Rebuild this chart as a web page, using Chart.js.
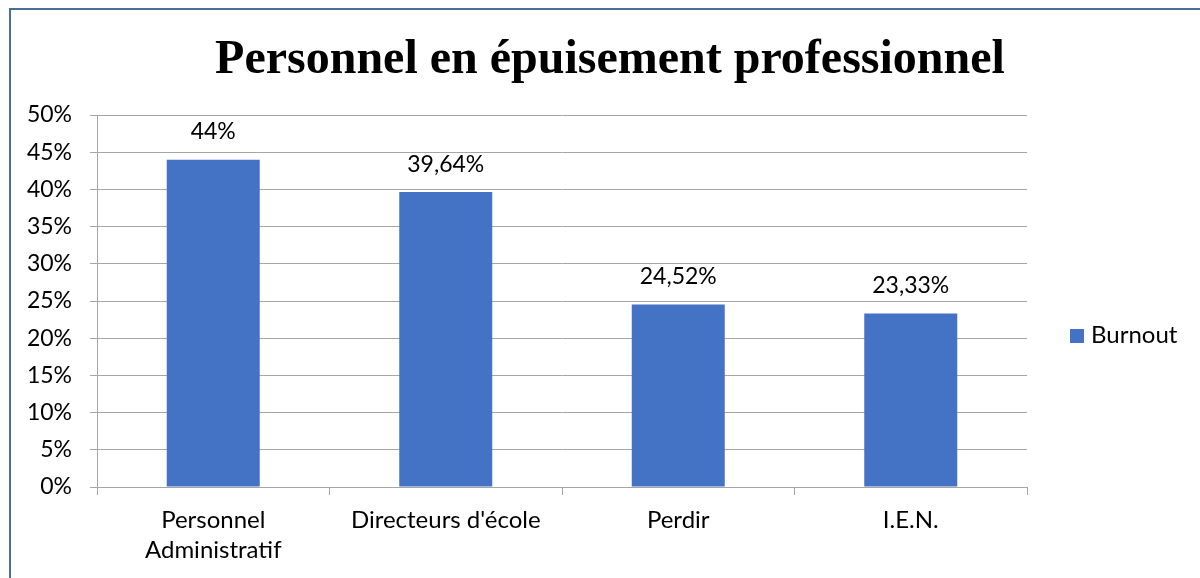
<!DOCTYPE html>
<html><head><meta charset="utf-8">
<script src="https://cdn.jsdelivr.net/npm/chart.js@4.4.0/dist/chart.umd.min.js"></script>
<style>html,body{margin:0;padding:0;background:#fff;}#wrap{position:relative;width:1200px;height:578px;}</style>
</head><body><div id="wrap"><canvas id="c" width="1200" height="578"></canvas></div>
<script>
const chartTitle = "Personnel en épuisement professionnel";
const categories = [["Personnel","Administratif"], "Directeurs d'école", "Perdir", "I.E.N."];
const seriesName = "Burnout";
const burnoutValues = [44, 39.64, 24.52, 23.33];
const valueLabels = ["44%", "39,64%", "24,52%", "23,33%"];
const yTickLabels = ["0%","5%","10%","15%","20%","25%","30%","35%","40%","45%","50%"];

const FONT = "Lato, 'Open Sans', sans-serif";
const BAR = "#4472C4";

const decor = {
  id: 'decor',
  beforeDraw(chart) {
    const ctx = chart.ctx;
    ctx.save();
    ctx.fillStyle = '#fff';
    ctx.fillRect(0,0,chart.width,chart.height);
    ctx.strokeStyle = '#4a6f97';
    ctx.lineWidth = 2;
    ctx.beginPath();
    ctx.moveTo(10, chart.height); ctx.lineTo(10, 9); ctx.lineTo(chart.width, 9);
    ctx.stroke();
    ctx.restore();
  },
  afterDraw(chart) {
    const ctx = chart.ctx;
    ctx.save();
    ctx.fillStyle = '#000';
    ctx.font = "bold 48px 'Liberation Serif', 'Times New Roman', serif";
    ctx.textAlign = 'center';
    ctx.textBaseline = 'alphabetic';
    ctx.fillText(chartTitle, 610, 73);
    ctx.font = "23px " + FONT;
    ctx.textBaseline = 'middle';
    const meta = chart.getDatasetMeta(0);
    meta.data.forEach((bar, i) => {
      ctx.fillText(valueLabels[i], bar.x, bar.y - 28);
    });
    ctx.fillStyle = BAR;
    ctx.fillRect(1070, 329, 14, 14);
    ctx.fillStyle = '#000';
    ctx.textAlign = 'left';
    ctx.font = "24px " + FONT;
    ctx.fillText(chart.data.datasets[0].label, 1091, 335);
    ctx.restore();
  }
};

new Chart(document.getElementById('c'), {
  type: 'bar',
  data: {
    labels: categories,
    datasets: [{ label: seriesName, data: burnoutValues, backgroundColor: BAR, borderWidth: 0,
      categoryPercentage: 1.0, barPercentage: 0.4 }]
  },
  options: {
    responsive: false,
    animation: false,
    devicePixelRatio: 1,
    layout: { padding: { left: 0, top: 115, right: 173, bottom: 0 } },
    plugins: { legend: { display: false }, title: { display: false }, tooltip: { enabled: false } },
    scales: {
      x: {
        afterFit(s) { s.height = 91; },
        grid: { drawOnChartArea: false, drawTicks: true, tickLength: 8, color: '#A6A6A6', offset: true },
        border: { color: '#A6A6A6', width: 1 },
        ticks: { color: '#000', font: { family: FONT, size: 24, lineHeight: 1.25 }, padding: 10, maxRotation: 0, autoSkip: false }
      },
      y: {
        min: 0, max: 50,
        afterFit(s) { s.width = 97; },
        grid: { color: '#A6A6A6', lineWidth: 1, drawTicks: true, tickLength: 7 },
        border: { color: '#A6A6A6', width: 1 },
        ticks: { stepSize: 5, color: '#000', padding: 18, font: { family: FONT, size: 23 },
          callback: (v) => yTickLabels[Math.round(v / 5)] }
      }
    }
  },
  plugins: [decor]
});
</script></body></html>
